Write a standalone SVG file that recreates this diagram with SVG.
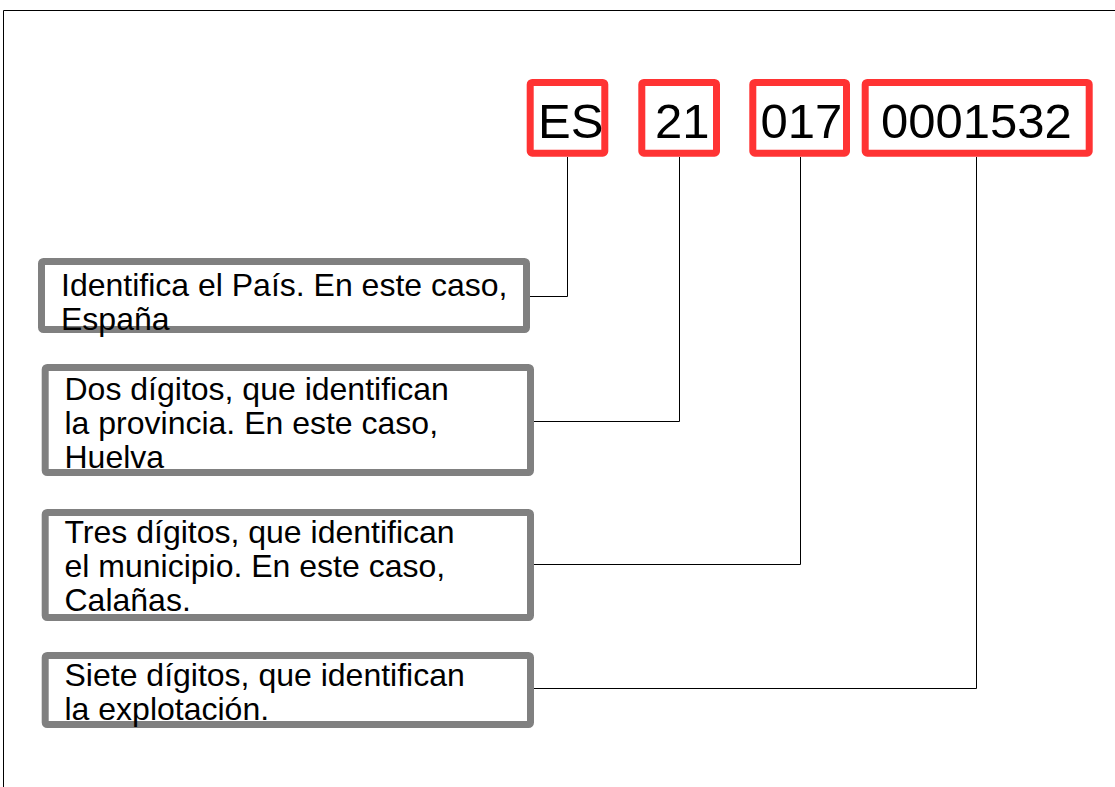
<svg xmlns="http://www.w3.org/2000/svg" width="1115" height="787" viewBox="0 0 1115 787">
<style>
.code{fill:none;stroke:#ff3333;stroke-width:7}
.desc{fill:#fff;stroke:#808080;stroke-width:7}
.ct{font-family:"Liberation Sans",Arial,sans-serif;font-size:49px;fill:#000}
.dt{font-family:"Liberation Sans",Arial,sans-serif;font-size:32px;fill:#000}
.ln{fill:none;stroke:#000;stroke-width:1}
</style>
<rect x="0" y="0" width="1115" height="787" fill="#fff"/>
<path d="M3.5 787 V10.5 H1115" fill="none" stroke="#000" stroke-width="1"/>
<g id="connectors">
<path class="ln" d="M567.5 157 V296.5 H527"/>
<path class="ln" d="M679.5 157 V421.5 H533"/>
<path class="ln" d="M800.5 157 V564.5 H533"/>
<path class="ln" d="M976.5 157 V688.5 H533"/>
</g>
<g id="code-es"><rect class="code" x="530.2" y="82.5" width="74.6" height="70.7" rx="2"/><text class="ct" x="538" y="138">ES</text></g>
<g id="code-21"><rect class="code" x="641.8" y="82.5" width="74.7" height="70.7" rx="2"/><text class="ct" x="655" y="138">21</text></g>
<g id="code-017"><rect class="code" x="752.8" y="82.5" width="93.7" height="70.7" rx="2"/><text class="ct" x="760.5" y="138">017</text></g>
<g id="code-0001532"><rect class="code" x="865.2" y="82.5" width="224" height="70.7" rx="2"/><text class="ct" x="881" y="138">0001532</text></g>
<g id="desc-pais"><rect class="desc" x="41.5" y="261.5" width="485" height="68" rx="2"/><text class="dt" x="61" y="296">Identifica el País. En este caso,</text><text class="dt" x="61" y="330">España</text></g>
<g id="desc-provincia"><rect class="desc" x="45.2" y="367.5" width="485.3" height="105" rx="2"/><text class="dt" x="64.5" y="400">Dos dígitos, que identifican</text><text class="dt" x="64.5" y="434">la provincia. En este caso,</text><text class="dt" x="64.5" y="468">Huelva</text></g>
<g id="desc-municipio"><rect class="desc" x="45.2" y="512.5" width="485.3" height="105" rx="2"/><text class="dt" x="64.5" y="543">Tres dígitos, que identifican</text><text class="dt" x="64.5" y="577">el municipio. En este caso,</text><text class="dt" x="64.5" y="611">Calañas.</text></g>
<g id="desc-explotacion"><rect class="desc" x="45.2" y="655.5" width="485.3" height="69" rx="2"/><text class="dt" x="64.5" y="686">Siete dígitos, que identifican</text><text class="dt" x="64.5" y="720">la explotación.</text></g>
</svg>
